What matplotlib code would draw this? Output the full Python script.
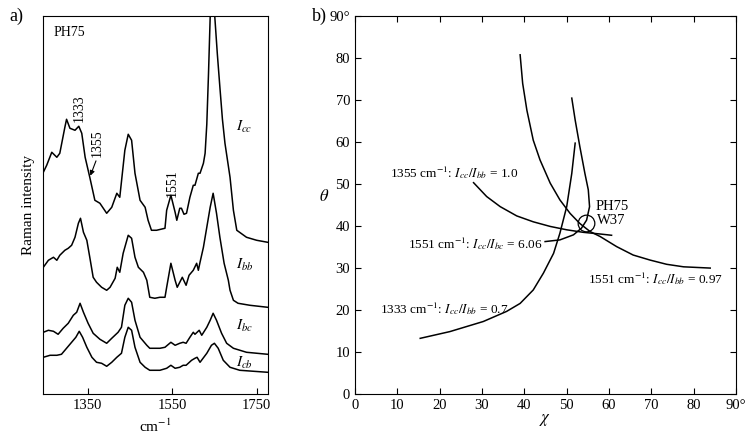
import matplotlib.pyplot as plt

plt.rcParams['font.family'] = ['Liberation Serif', 'DejaVu Serif']
plt.rcParams['mathtext.fontset'] = 'stix'

# ---- a) polarized Raman spectra (arbitrary units, offset as in the figure)
wn_cc = [1245, 1253, 1265, 1277, 1284, 1296, 1300, 1308, 1320, 1329, 1336, 1344,
         1355, 1367, 1379, 1395, 1407, 1419, 1426, 1438, 1446, 1454, 1462, 1474,
         1486, 1493, 1501, 1513, 1533, 1537, 1547, 1557, 1561, 1568, 1572, 1578,
         1584, 1592, 1600, 1604, 1612, 1616, 1624, 1628, 1632, 1636, 1640, 1645,
         1651, 1657, 1663, 1669, 1675, 1687, 1695, 1703, 1726, 1750, 1776]
I_cc = [222, 229, 242, 237, 241, 267, 275, 266, 264, 268, 261, 237,
        217, 194, 191, 181, 187, 201, 197, 244, 260, 254, 221, 194,
        187, 174, 164, 164, 166, 184, 199, 182, 174, 186, 186, 180,
        181, 197, 209, 209, 221, 221, 231, 241, 270, 320, 377, 440,
        377, 340, 307, 275, 251, 217, 184, 164, 157, 154, 152]

wn_bb = [1245, 1257, 1269, 1277, 1284, 1296, 1304, 1312, 1320, 1328, 1333, 1340,
         1348, 1355, 1363, 1371, 1383, 1395, 1403, 1415, 1420, 1426, 1434, 1446,
         1454, 1462, 1470, 1482, 1490, 1497, 1509, 1521, 1533, 1537, 1547, 1557,
         1562, 1574, 1583, 1590, 1600, 1608, 1612, 1616, 1624, 1632, 1640, 1647,
         1655, 1663, 1673, 1683, 1687, 1695, 1706, 1734, 1776]
I_bb = [127, 134, 137, 134, 139, 144, 146, 149, 157, 171, 176, 162,
        154, 137, 117, 112, 107, 104, 107, 116, 127, 122, 141, 159,
        156, 137, 127, 122, 114, 97, 96, 97, 97, 107, 131, 114,
        107, 117, 109, 119, 124, 131, 124, 132, 147, 167, 187, 201,
        181, 157, 131, 114, 104, 94, 91, 89, 87]

wn_bc = [1245, 1257, 1269, 1280, 1292, 1304, 1316, 1324, 1332, 1340, 1351, 1363,
         1379, 1395, 1407, 1422, 1430, 1438, 1446, 1454, 1462, 1474, 1490, 1497,
         1521, 1533, 1547, 1557, 1568, 1576, 1583, 1592, 1600, 1604, 1614, 1620,
         1632, 1640, 1647, 1655, 1667, 1679, 1695, 1726, 1776]
I_bc = [62, 64, 63, 60, 66, 71, 79, 82, 91, 82, 71, 61,
        55, 51, 56, 62, 67, 89, 96, 92, 74, 57, 49, 46,
        46, 47, 52, 49, 51, 52, 51, 57, 62, 60, 64, 59,
        67, 74, 81, 74, 61, 51, 46, 42, 40]

wn_cb = [1245, 1261, 1277, 1288, 1300, 1312, 1322, 1330, 1338, 1348, 1360, 1371,
         1383, 1395, 1407, 1419, 1430, 1438, 1446, 1454, 1462, 1474, 1486, 1497,
         1521, 1537, 1547, 1557, 1568, 1576, 1583, 1596, 1604, 1609, 1616, 1632,
         1643, 1650, 1659, 1671, 1687, 1710, 1776]
I_cb = [37, 39, 39, 40, 46, 52, 57, 63, 57, 47, 37, 32,
        31, 28, 32, 37, 41, 57, 67, 64, 47, 32, 27, 24,
        24, 26, 29, 26, 27, 29, 29, 34, 36, 37, 32, 41,
        49, 51, 46, 34, 27, 24, 22]

# ---- b) chi / theta solution curves (degrees)
chi_1551_bb = [39.0, 39.6, 40.6, 42.1, 43.7, 46.1, 48.4, 50.8, 53.1, 55.5, 57.9,
               61.8, 65.7, 69.7, 73.6, 77.6, 83.9]
th_1551_bb = [80.7, 73.9, 67.5, 60.4, 55.7, 50.2, 46.2, 43.0, 40.6, 38.7, 37.5,
              35.1, 33.1, 31.9, 30.9, 30.3, 30.0]

chi_1355 = [28.0, 31.1, 34.3, 38.2, 42.1, 46.1, 50.0, 53.9, 57.9, 60.6]
th_1355 = [50.3, 47.0, 44.6, 42.4, 41.0, 39.9, 39.1, 38.5, 38.1, 37.8]

chi_1333 = [15.4, 22.4, 30.3, 35.8, 39.0, 42.1, 44.5, 46.9, 48.4, 50.0, 51.2, 52.0]
th_1333 = [13.3, 14.9, 17.3, 19.7, 21.6, 24.8, 28.8, 33.5, 38.3, 44.6, 52.5, 59.7]

chi_1551_bc = [44.9, 48.4, 51.6, 53.5, 54.7, 55.4, 55.1, 54.3, 53.1, 52.0, 51.2]
th_1551_bc = [36.3, 36.7, 37.9, 39.5, 41.4, 44.6, 48.6, 52.5, 58.9, 65.2, 70.4]

ph75_chi, ph75_theta = 54.5, 40.8

fig = plt.figure(figsize=(7.56, 4.40), dpi=100)

# left panel
ax1 = fig.add_axes([0.0573, 0.1039, 0.2967, 0.8605])
for wn, inten in [(wn_cc, I_cc), (wn_bb, I_bb), (wn_bc, I_bc), (wn_cb, I_cb)]:
    ax1.plot(wn, inten, color='black', lw=1.1)
ax1.set_xlim(1245, 1776)
ax1.set_ylim(0, 378.6)
ax1.set_xticks([1350, 1550, 1750])
ax1.set_yticks([])
ax1.tick_params(axis='x', direction='in', length=4, labelsize=10.5)
ax1.set_xlabel('cm$^{-1}$', fontsize=11, labelpad=4)
ax1.set_ylabel('Raman intensity', fontsize=11, labelpad=6)
ax1.text(1270, 362, 'PH75', fontsize=10, va='center')
ax1.text(1330, 286, '1333', rotation=90, fontsize=10, ha='center', va='center')
ax1.text(1373, 251, '1355', rotation=90, fontsize=10, ha='center', va='center')
ax1.text(1549, 211, '1551', rotation=90, fontsize=10, ha='center', va='center')
ax1.annotate('', xy=(1354, 216), xytext=(1372, 236),
             arrowprops=dict(arrowstyle='-|>', color='black', lw=0.8,
                             mutation_scale=7))
ax1.text(1700, 267, '$I_{cc}$', fontsize=11, va='center')
ax1.text(1700, 129, '$I_{bb}$', fontsize=11, va='center')
ax1.text(1700, 68, '$I_{bc}$', fontsize=11, va='center')
ax1.text(1700, 31, '$I_{cb}$', fontsize=11, va='center')

# right panel
ax2 = fig.add_axes([0.4696, 0.1039, 0.504, 0.8605])
for c, t in [(chi_1551_bb, th_1551_bb), (chi_1355, th_1355),
             (chi_1333, th_1333), (chi_1551_bc, th_1551_bc)]:
    ax2.plot(c, t, color='black', lw=1.1)
ax2.plot([ph75_chi], [ph75_theta], marker='o', ms=12, mfc='none',
         mec='black', mew=0.9)
ax2.set_xlim(0, 90)
ax2.set_ylim(0, 90)
ticks = list(range(0, 91, 10))
labels = [str(v) for v in ticks[:-1]] + ['90°']
ax2.set_xticks(ticks)
ax2.set_xticklabels(labels)
ax2.set_yticks(ticks)
ax2.set_yticklabels(labels)
ax2.tick_params(direction='in', length=4, labelsize=10.5, top=True, right=True)
ax2.set_xlabel(r'$\chi$', fontsize=12, labelpad=0)
ax2.set_ylabel(r'$\theta$', fontsize=12, rotation=0, labelpad=4)
ax2.text(8.3, 52.8, r'1355 cm$^{-1}$: $I_{cc}/I_{bb}$ = 1.0', fontsize=9.5, va='center')
ax2.text(12.4, 35.9, r'1551 cm$^{-1}$: $I_{cc}/I_{bc}$ = 6.06', fontsize=9.5, va='center')
ax2.text(55.1, 27.6, r'1551 cm$^{-1}$: $I_{cc}/I_{bb}$ = 0.97', fontsize=9.5, va='center')
ax2.text(5.9, 20.4, r'1333 cm$^{-1}$: $I_{cc}/I_{bb}$ = 0.7', fontsize=9.5, va='center')
ax2.text(56.9, 44.6, 'PH75', fontsize=10.5, va='center')
ax2.text(57.1, 41.3, 'W37', fontsize=10.5, va='center')

fig.text(0.012, 0.962, 'a)', fontsize=13, va='center')
fig.text(0.413, 0.962, 'b)', fontsize=13, va='center')

fig.savefig('out.png', dpi=100)
